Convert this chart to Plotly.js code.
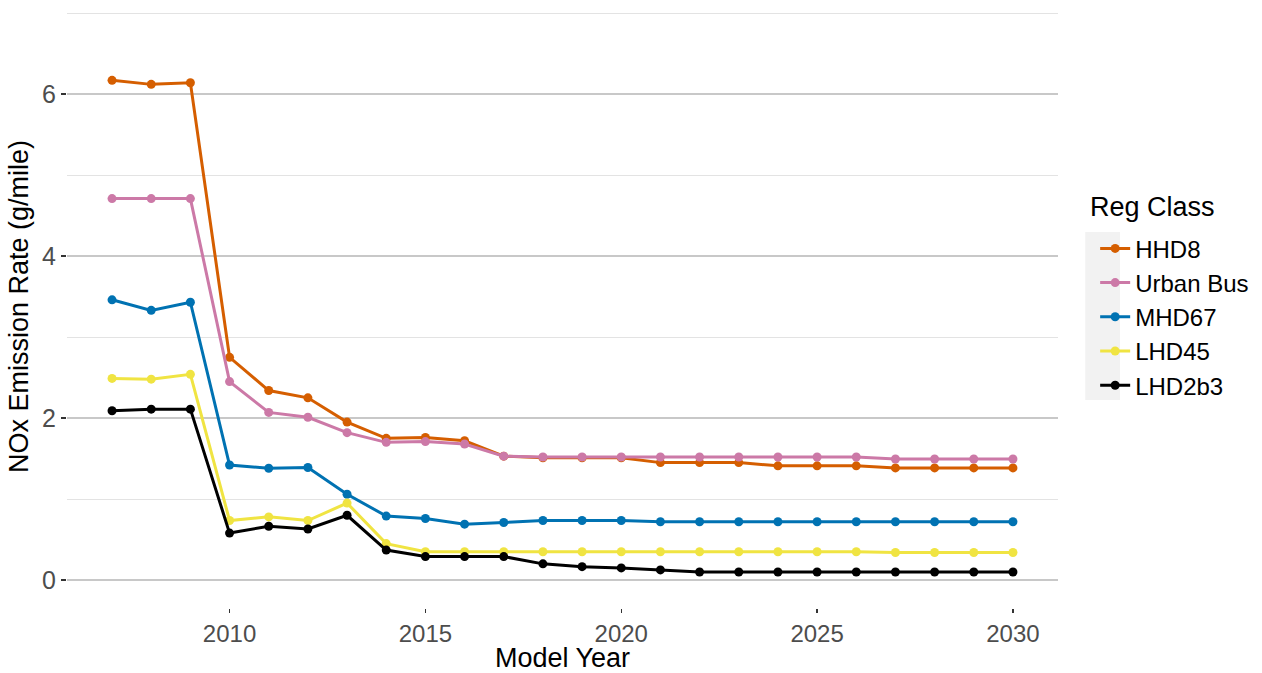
<!DOCTYPE html>
<html>
<head>
<meta charset="utf-8">
<script src="https://cdn.plot.ly/plotly-3.0.1.min.js"></script>
<style>html,body{margin:0;padding:0;background:#fff;}#chart{width:1262px;height:673px;}</style>
</head>
<body>
<div id="chart"></div>
<script>
const years = [2007,2008,2009,2010,2011,2012,2013,2014,2015,2016,2017,2018,2019,2020,2021,2022,2023,2024,2025,2026,2027,2028,2029,2030];
const seriesNames = ["HHD8","Urban Bus","MHD67","LHD45","LHD2b3"];
const hhd8     = [6.17,6.12,6.14,2.75,2.34,2.25,1.95,1.75,1.76,1.72,1.53,1.51,1.51,1.51,1.45,1.45,1.45,1.41,1.41,1.41,1.385,1.385,1.385,1.385];
const urbanBus = [4.71,4.71,4.71,2.45,2.07,2.01,1.82,1.70,1.71,1.68,1.53,1.52,1.52,1.52,1.52,1.52,1.52,1.52,1.52,1.52,1.495,1.495,1.495,1.495];
const mhd67    = [3.46,3.33,3.43,1.42,1.38,1.39,1.06,0.79,0.76,0.69,0.71,0.735,0.735,0.735,0.72,0.72,0.72,0.72,0.72,0.72,0.72,0.72,0.72,0.72];
const lhd45    = [2.49,2.48,2.54,0.735,0.78,0.735,0.95,0.45,0.35,0.35,0.35,0.35,0.35,0.35,0.35,0.35,0.35,0.35,0.35,0.35,0.34,0.34,0.34,0.34];
const lhd2b3   = [2.09,2.11,2.11,0.58,0.665,0.63,0.80,0.37,0.29,0.29,0.29,0.20,0.165,0.15,0.125,0.10,0.10,0.10,0.10,0.10,0.10,0.10,0.10,0.10];
const seriesValues = [hhd8, urbanBus, mhd67, lhd45, lhd2b3];
const seriesColors = ["#D55E00","#CC79A7","#0072B2","#F0E442","#000000"];
const legendTitle = "Reg Class";
const xTickVals = [2010,2015,2020,2025,2030];
const yTickVals = [0,2,4,6];
const xGridBreaks = [2007.5,2010,2012.5,2015,2017.5,2020,2022.5,2025,2027.5,2030];

const font = "Liberation Sans, Arial, sans-serif";

const traces = seriesNames.map((name, i) => ({
  type: "scatter",
  mode: "lines+markers",
  name: name,
  x: years,
  y: seriesValues[i],
  line: {color: seriesColors[i], width: 3},
  marker: {color: seriesColors[i], size: 9}
}));

const shapes = [
  {type: "rect", xref: "paper", yref: "paper", x0: 1.0275, x1: 1.0625, y0: 0.345, y1: 0.6235,
   fillcolor: "#F2F2F2", line: {width: 0}, layer: "below"}
];
xGridBreaks.forEach(v => {
  const major = xTickVals.indexOf(v) >= 0;
  shapes.push({type: "line", xref: "x", yref: "paper", x0: v, x1: v, y0: 0, y1: 1,
    line: {color: "#FFFFFF", width: major ? 2 : 1.5}, layer: "between"});
});

const layout = {
  width: 1262, height: 673,
  margin: {l: 67, r: 204, t: 5, b: 65},
  paper_bgcolor: "#FFFFFF",
  plot_bgcolor: "#FFFFFF",
  font: {family: font, color: "#000000"},
  showlegend: true,
  legend: {
    x: 1.0375, xanchor: "left", y: 0.633, yanchor: "top",
    font: {size: 24, color: "#000000"},
    bgcolor: "rgba(0,0,0,0)",
    tracegroupgap: 0,
    itemwidth: 30
  },
  annotations: [{
    text: legendTitle, xref: "paper", yref: "paper", x: 1.0305, y: 0.665,
    xanchor: "left", yanchor: "middle", showarrow: false,
    font: {size: 27, color: "#000000"}
  }],
  xaxis: {
    range: [2005.85, 2031.15],
    tickvals: xTickVals,
    ticks: "outside", ticklen: 4, tickcolor: "#333333", tickwidth: 1.2,
    tickfont: {size: 24, color: "#4D4D4D"},
    showgrid: false, zeroline: false, showline: false,
    title: {text: "Model Year", font: {size: 27, color: "#000000"}, standoff: 9}
  },
  yaxis: {
    range: [-0.345, 7.1],
    tickvals: yTickVals,
    ticks: "outside", ticklen: 5, tickcolor: "#333333", tickwidth: 1.2,
    tickfont: {size: 25, color: "#4D4D4D"},
    showgrid: true, gridcolor: "#C8C8C8", gridwidth: 1.2,
    minor: {tickvals: [1,3,5,7], showgrid: true, gridcolor: "#E3E3E3", gridwidth: 1, ticks: ""},
    zeroline: false, showline: false,
    title: {text: "NOx Emission Rate (g/mile)", font: {size: 27, color: "#000000"}, standoff: 5}
  },
  shapes: shapes
};

Plotly.newPlot("chart", traces, layout, {displayModeBar: false, staticPlot: true});
</script>
</body>
</html>
